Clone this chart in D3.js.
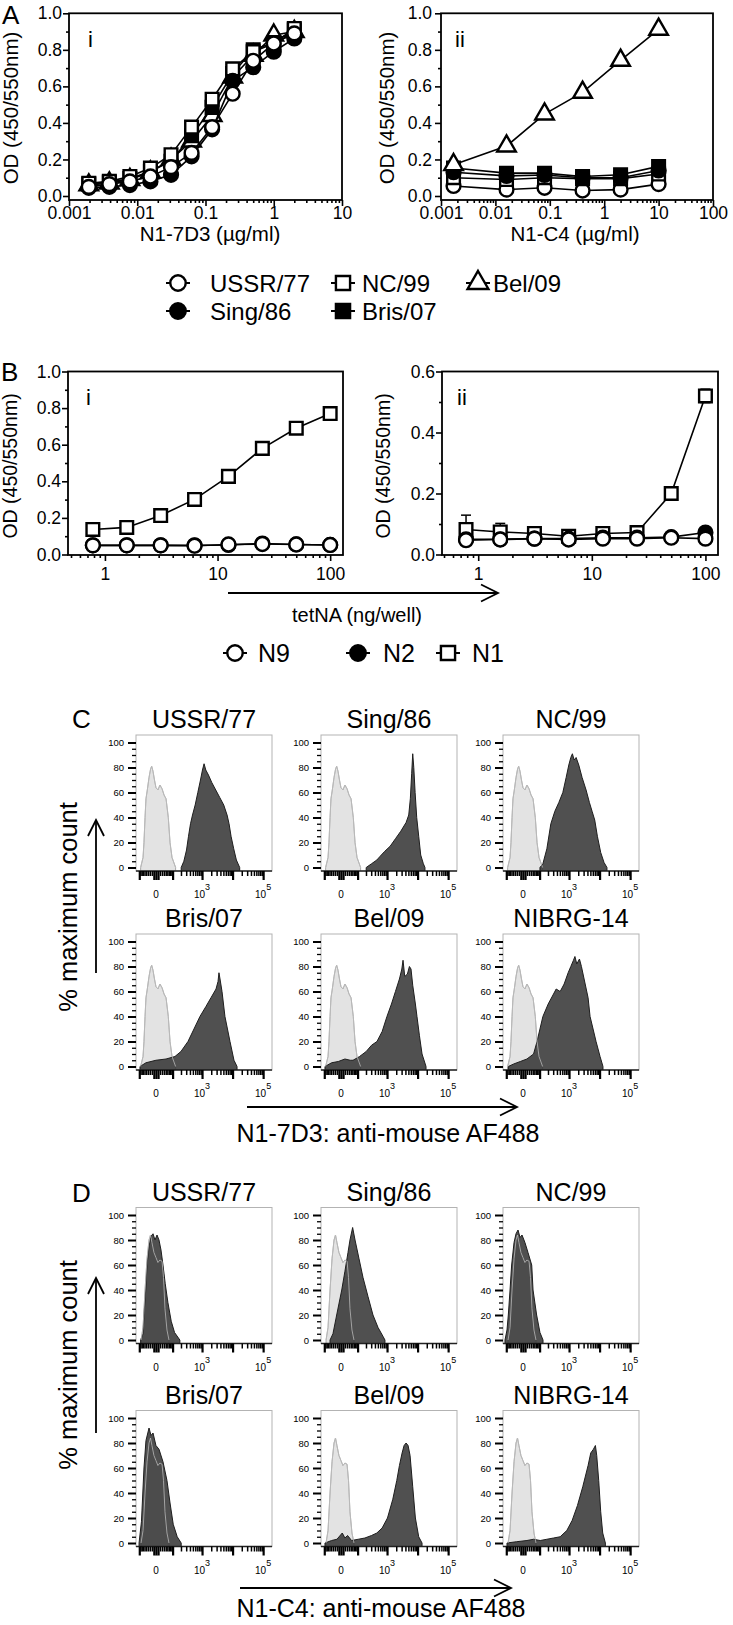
<!DOCTYPE html>
<html><head><meta charset="utf-8">
<script src="https://cdn.jsdelivr.net/npm/d3@7"></script>
<style>
body{margin:0;background:#fff}
svg text{font-family:"Liberation Sans",Arial,Helvetica,sans-serif;fill:#000}
</style></head>
<body><svg id="fig" width="733" height="1625"></svg>
<script>
// ---------------- DATA ----------------
// Panel A(i): N1-7D3 ELISA
const conc7D3 = [0.00195,0.0039,0.0078,0.0156,0.03125,0.0625,0.125,0.25,0.5,1,2];
const od7D3_USSR = [0.05,0.065,0.08,0.107,0.158,0.236,0.377,0.56,0.74,0.835,0.89];
const od7D3_Sing = [0.045,0.05,0.06,0.08,0.116,0.217,0.365,0.63,0.705,0.79,0.862];
const od7D3_NC   = [0.07,0.08,0.107,0.153,0.226,0.377,0.53,0.696,0.79,0.835,0.917];
const od7D3_Bris = [0.065,0.075,0.095,0.135,0.19,0.33,0.485,0.67,0.80,0.84,0.91];
const od7D3_Bel  = [0.06,0.07,0.09,0.13,0.2,0.3,0.44,0.65,0.77,0.88,0.9];
// Panel A(ii): N1-C4 ELISA
const concC4 = [0.0017,0.016,0.08,0.4,2,10];
const odC4_USSR = [0.055,0.035,0.045,0.03,0.035,0.065];
const odC4_Sing = [0.13,0.11,0.115,0.10,0.10,0.14];
const odC4_NC   = [0.10,0.09,0.10,0.095,0.095,0.12];
const odC4_Bris = [0.153,0.125,0.125,0.107,0.116,0.162];
const odC4_Bel  = [0.171,0.273,0.448,0.567,0.742,0.912];
const strainsA = ["USSR/77","Sing/86","NC/99","Bris/07","Bel/09"];
// Panel B: tetNA
const tetNA = [0.78125,1.5625,3.125,6.25,12.5,25,50,100];
const bi_N9 = [0.05,0.05,0.05,0.048,0.055,0.057,0.055,0.052];
const bi_N2 = [0.05,0.05,0.05,0.05,0.052,0.06,0.055,0.052];
const bi_N1 = [0.137,0.148,0.213,0.301,0.427,0.58,0.69,0.77];
const bii_N9 = [0.047,0.049,0.052,0.049,0.052,0.052,0.055,0.052];
const bii_N2 = [0.05,0.05,0.052,0.052,0.055,0.055,0.057,0.072];
const bii_N1 = [0.082,0.074,0.069,0.06,0.069,0.072,0.2,0.52];
const bii_N1_err = [0.047,0.028,0.01,0.005,0.005,0.005,0.022,0.022];
const strainsB = ["N9","N2","N1"];
// tick labels
const ticksA1 = [0.001,0.01,0.1,1,10], ticksA1Lab = ["0.001","0.01","0.1","1","10"];
const ticksA2 = [0.001,0.01,0.1,1,10,100], ticksA2Lab = ["0.001","0.01","0.1","1","10","100"];
const ticksB = [1,10,100], ticksBLab = ["1","10","100"];
const ticksOD1 = [0,0.2,0.4,0.6,0.8,1.0], ticksOD1Lab = ["0.0","0.2","0.4","0.6","0.8","1.0"];
const ticksOD2 = [0,0.2,0.4,0.6], ticksOD2Lab = ["0.0","0.2","0.4","0.6"];
// Flow histograms: [channel (0-1023), % of max]
const flowTitles = ["USSR/77","Sing/86","NC/99","Bris/07","Bel/09","NIBRG-14"];
const ctrlC = [[35,0],[53,8],[60,20],[68,40],[75,55],[85,62],[98,72],[110,79],[118,81],[128,77],[139,70],[150,64],[165,62],[180,66],[196,63],[211,58],[226,55],[243,40],[256,20],[271,8],[298,0]];
const ctrlD = [[38,0],[53,10],[68,40],[83,65],[98,80],[109,84],[120,78],[135,70],[150,66],[165,62],[180,64],[196,63],[207,50],[218,25],[233,8],[248,0]];
const C_USSR = [[340,0],[360,5],[380,14],[395,25],[410,35],[425,42],[445,50],[465,60],[485,70],[500,78],[512,83],[525,78],[545,74],[570,68],[600,62],[630,56],[660,50],[685,42],[700,35],[715,25],[735,15],[755,6],[780,0]];
const C_Sing = [[340,0],[380,3],[420,6],[445,9],[480,13],[520,17],[560,23],[600,29],[640,36],[660,42],[672,55],[682,75],[690,91],[698,80],[708,60],[720,40],[735,25],[750,10],[770,3],[782,0]];
const C_NC = [[278,0],[300,3],[330,15],[360,35],[390,45],[420,52],[450,60],[475,72],[495,82],[510,88],[522,91],[535,86],[550,88],[570,82],[595,72],[625,62],[650,52],[670,45],[690,38],[710,25],[735,12],[760,4],[782,0]];
const C_Bris = [[30,0],[75,3],[150,5],[226,6],[293,8],[338,12],[391,20],[436,30],[481,40],[526,48],[564,55],[602,62],[617,68],[624,75],[632,70],[647,60],[669,40],[707,20],[737,5],[760,0]];
const C_Bel = [[30,0],[80,3],[130,4],[180,6],[220,5],[241,5],[290,8],[340,12],[380,17],[421,20],[460,28],[496,40],[530,50],[560,60],[590,70],[608,78],[617,85],[630,72],[650,74],[665,80],[677,78],[690,65],[710,50],[722,40],[740,25],[760,10],[790,0]];
const C_NIBRG = [[40,0],[80,2],[130,4],[180,6],[230,10],[256,20],[300,40],[340,50],[380,58],[400,62],[430,60],[460,66],[490,75],[510,80],[530,85],[541,88],[555,82],[575,86],[590,80],[610,70],[640,55],[655,40],[700,20],[730,8],[752,0]];
const D_USSR = [[35,0],[53,5],[60,20],[73,40],[83,60],[98,75],[113,83],[128,85],[143,80],[158,84],[173,80],[188,72],[203,60],[220,45],[240,30],[265,15],[290,6],[330,0]];
const D_Sing = [[68,0],[90,5],[118,20],[156,40],[180,55],[203,70],[218,80],[238,90],[256,80],[286,65],[316,50],[353,35],[391,20],[429,10],[466,3],[481,0]];
const D_NC = [[15,0],[30,8],[40,20],[53,40],[65,60],[83,78],[98,85],[113,88],[128,82],[143,84],[165,78],[188,70],[216,60],[226,40],[253,20],[278,6],[301,0]];
const D_Bris = [[23,0],[41,17],[60,60],[75,82],[98,92],[113,86],[128,88],[150,78],[173,75],[203,65],[233,50],[256,32],[280,15],[310,5],[340,0]];
const D_Bel = [[30,0],[80,2],[120,3],[160,8],[180,4],[200,6],[230,2],[280,3],[330,4],[380,6],[420,8],[460,12],[500,20],[540,35],[570,50],[590,62],[610,72],[625,78],[640,80],[655,78],[670,70],[690,45],[710,20],[735,5],[760,0]];
const D_NIBRG = [[30,0],[100,1],[180,2],[230,3],[280,2],[330,3],[380,4],[430,5],[480,10],[520,18],[560,30],[600,45],[640,62],[660,72],[680,75],[695,78],[705,70],[720,50],[735,25],[750,8],[770,0]];
const flowC = [C_USSR,C_Sing,C_NC,C_Bris,C_Bel,C_NIBRG];
const flowD = [D_USSR,D_Sing,D_NC,D_Bris,D_Bel,D_NIBRG];
const flowTickVals = [0,1000,100000], flowTickLab = [["0",""],["10","3"],["10","5"]];
const pctTicks = [0,20,40,60,80,100];

// ---------------- DRAWING ----------------
const svg = d3.select("#fig");
const BLK = "#000";
function styleAxis(g, fs){
  g.selectAll("path.domain").remove();
  g.selectAll(".tick line").attr("stroke",BLK).attr("stroke-width",1.6);
  g.selectAll(".tick text").attr("font-size",fs).attr("font-family",null).attr("fill",BLK);
  g.attr("font-family",null);
}
function minorLog(dom){
  const out=[]; const lo=Math.floor(Math.log10(dom[0])), hi=Math.ceil(Math.log10(dom[1]));
  for(let e=lo;e<hi;e++) for(let m=2;m<=9;m++){const v=m*Math.pow(10,e); if(v>=dom[0]&&v<=dom[1]) out.push(v);}
  return out;
}
function odPanel(o){
  const g = svg.append("g");
  const x = d3.scaleLog().domain(o.xdom).range(o.xr);
  const y = d3.scaleLinear().domain([0,o.ymax]).range(o.yr);
  const top = y(o.ymax), bot = o.axisY;
  g.append("rect").attr("x",o.xr[0]).attr("y",top).attr("width",o.xr[1]-o.xr[0]).attr("height",bot-top)
   .attr("fill","none").attr("stroke",BLK).attr("stroke-width",1.8);
  const gx = g.append("g").attr("transform",`translate(0,${bot})`)
    .call(d3.axisBottom(x).tickValues(o.xt).tickFormat((d,i)=>o.xtl[i]).tickSize(6).tickSizeOuter(0).tickPadding(o.xpad));
  styleAxis(gx,17.5);
  const gxm = g.append("g").attr("transform",`translate(0,${bot})`)
    .call(d3.axisBottom(x).tickValues(minorLog(o.xdom)).tickFormat("").tickSize(3).tickSizeOuter(0));
  styleAxis(gxm,10);
  const gy = g.append("g").attr("transform",`translate(${o.xr[0]},0)`)
    .call(d3.axisLeft(y).tickValues(o.yt).tickFormat((d,i)=>o.ytl[i]).tickSize(6).tickSizeOuter(0).tickPadding(o.ypad));
  styleAxis(gy,17.5);
  const ym=[]; for(let v=0.1; v<o.ymax; v+=0.2) ym.push(+v.toFixed(2));
  const gym = g.append("g").attr("transform",`translate(${o.xr[0]},0)`)
    .call(d3.axisLeft(y).tickValues(ym).tickFormat("").tickSize(3).tickSizeOuter(0));
  styleAxis(gym,10);
  g.append("text").attr("transform",`translate(${o.ytx},${o.yty}) rotate(-90)`).attr("text-anchor","middle")
   .attr("dominant-baseline","central").attr("font-size",o.ytfs||20.5).text("OD (450/550nm)");
  if(o.xtitle) g.append("text").attr("x",o.xtx).attr("y",o.xty).attr("text-anchor","middle").attr("font-size",20.5).text(o.xtitle);
  g.append("text").attr("x",o.romX).attr("y",o.romY).attr("font-size",22).text(o.roman);
  const line = d3.line().x(d=>x(d[0])).y(d=>y(d[1]));
  o.series.forEach(s=>{
    const pts = o.xs.map((c,i)=>[c,s.v[i]]);
    if(s.err){
      pts.forEach((p,i)=>{
        const e=s.err[i], cx=x(p[0]);
        g.append("line").attr("x1",cx).attr("x2",cx).attr("y1",y(p[1]-e)).attr("y2",y(p[1]+e)).attr("stroke",BLK).attr("stroke-width",1.5);
        [p[1]-e,p[1]+e].forEach(v=>g.append("line").attr("x1",cx-5).attr("x2",cx+5).attr("y1",y(v)).attr("y2",y(v)).attr("stroke",BLK).attr("stroke-width",1.5));
      });
    }
    g.append("path").attr("d",line(pts)).attr("fill","none").attr("stroke",BLK).attr("stroke-width",1.6);
    pts.forEach(p=>marker(g,s.shape,s.filled,x(p[0]),y(p[1]),1));
  });
}
function marker(g,shape,filled,cx,cy,k){
  const sym = shape==="circle"?d3.symbolCircle:shape==="square"?d3.symbolSquare:d3.symbolTriangle;
  const size = shape==="circle"?150:shape==="square"?160:150;
  g.append("path").attr("d",d3.symbol().type(sym).size(size*k)()).attr("transform",`translate(${cx},${cy})`)
   .attr("fill",filled?BLK:"#fff").attr("stroke",BLK).attr("stroke-width",2.4);
}
const shapeA = {"USSR/77":["circle",false],"Sing/86":["circle",true],"NC/99":["square",false],"Bris/07":["square",true],"Bel/09":["triangle",false]};
const shapeB = {"N9":["circle",false],"N2":["circle",true],"N1":["square",false]};

const A1vals = {"USSR/77":od7D3_USSR,"Sing/86":od7D3_Sing,"NC/99":od7D3_NC,"Bris/07":od7D3_Bris,"Bel/09":od7D3_Bel};
const A2vals = {"USSR/77":odC4_USSR,"Sing/86":odC4_Sing,"NC/99":odC4_NC,"Bris/07":odC4_Bris,"Bel/09":odC4_Bel};
const orderA1 = ["Bel/09","Bris/07","NC/99","Sing/86","USSR/77"];
const orderA2 = ["USSR/77","NC/99","Sing/86","Bris/07","Bel/09"];

odPanel({xdom:[0.001,10],xr:[69,342],ymax:1,yr:[196,13.3],axisY:200,xt:ticksA1,xtl:ticksA1Lab,yt:ticksOD1,ytl:ticksOD1Lab,
  xpad:1,ypad:1,ytx:10,yty:108,xtitle:"N1-7D3 (µg/ml)",xtx:210,xty:241,roman:"i",romX:88,romY:47,xs:conc7D3,
  series:orderA1.map(n=>({v:A1vals[n],shape:shapeA[n][0],filled:shapeA[n][1]}))});
odPanel({xdom:[0.001,100],xr:[441,713],ymax:1,yr:[196,13.3],axisY:200,xt:ticksA2,xtl:ticksA2Lab,yt:ticksOD1,ytl:ticksOD1Lab,
  xpad:1,ypad:3,ytx:386,yty:108,xtitle:"N1-C4 (µg/ml)",xtx:575,xty:241,roman:"ii",romX:455,romY:47,xs:concC4,
  series:orderA2.map(n=>({v:A2vals[n],shape:shapeA[n][0],filled:shapeA[n][1]}))});
const Bi = {"N9":bi_N9,"N2":bi_N2,"N1":bi_N1}, Bii = {"N9":bii_N9,"N2":bii_N2,"N1":bii_N1};
odPanel({xdom:[0.47,130],xr:[68,343],ymax:1,yr:[554.5,371.5],axisY:555,xt:ticksB,xtl:ticksBLab,yt:ticksOD1,ytl:ticksOD1Lab,
  xpad:7,ypad:1,ytx:10,yty:466,ytfs:19.5,roman:"i",romX:86,romY:405,xs:tetNA,
  series:["N1","N2","N9"].map(n=>({v:Bi[n],shape:shapeB[n][0],filled:shapeB[n][1]}))});
odPanel({xdom:[0.48,129],xr:[442,718],ymax:0.6,yr:[554.5,371.5],axisY:555,xt:ticksB,xtl:ticksBLab,yt:ticksOD2,ytl:ticksOD2Lab,
  xpad:7,ypad:1,ytx:383,yty:466,ytfs:19.5,roman:"ii",romX:457,romY:405,xs:tetNA,
  series:["N1","N2","N9"].map(n=>({v:Bii[n],err:n==="N1"?bii_N1_err:null,shape:shapeB[n][0],filled:shapeB[n][1]}))});

[["A",2,24],["B",1,381],["C",72,728],["D",72,1202]].forEach(([t,x,y])=>svg.append("text").attr("x",x).attr("y",y).attr("font-size",26).text(t));

function legendItem(name,shp,cx,cy,tx,fs){
  svg.append("line").attr("x1",cx-12).attr("x2",cx+12).attr("y1",cy).attr("y2",cy).attr("stroke",BLK).attr("stroke-width",2);
  marker(svg,shp[0],shp[1],cx,cy,1.25);
  svg.append("text").attr("x",tx).attr("y",cy).attr("dy","0.36em").attr("font-size",fs).text(name);
}
const legA = [["USSR/77",178,283,210],["NC/99",343,283,362],["Bel/09",478,283,493],["Sing/86",178,311,210],["Bris/07",343,311,362]];
legA.forEach(([n,cx,cy,tx])=>legendItem(n,shapeA[n],cx,cy,tx,24));
const legB = [["N9",235,653,258],["N2",358,653,383],["N1",448,653,472]];
legB.forEach(([n,cx,cy,tx])=>legendItem(n,shapeB[n],cx,cy,tx,25));

function arrowH(x1,x2,y){
  svg.append("line").attr("x1",x1).attr("x2",x2).attr("y1",y).attr("y2",y).attr("stroke",BLK).attr("stroke-width",1.8);
  svg.append("path").attr("d",`M${x2-17},${y-8.5}L${x2},${y}L${x2-17},${y+8.5}`).attr("fill","none").attr("stroke",BLK).attr("stroke-width",1.8);
}
function arrowV(x,y1,y2){
  svg.append("line").attr("x1",x).attr("x2",x).attr("y1",y1).attr("y2",y2).attr("stroke",BLK).attr("stroke-width",1.8);
  svg.append("path").attr("d",`M${x-8},${y2+16}L${x},${y2}L${x+8},${y2+16}`).attr("fill","none").attr("stroke",BLK).attr("stroke-width",1.8);
}
arrowH(228,498,593);
svg.append("text").attr("x",357).attr("y",622).attr("text-anchor","middle").attr("font-size",20).text("tetNA (ng/well)");

const cols = [136,321,503], FW = 136;
const chOf = v => 150 + 99.8*Math.asinh(v/62);
function flowTickMarks(){
  const maj=[0], mnr=[];
  for(let e=1;e<=5;e++){ for(let m=1;m<=9;m++){ const v=m*Math.pow(10,e); (m===1?maj:mnr).push(v); if(e<=2){(m===1?maj:mnr).push(-v);} } }
  return {maj:maj.map(chOf).filter(c=>c>=0&&c<=1023), mnr:mnr.map(chOf).filter(c=>c>=0&&c<=1023)};
}
const fTicks = flowTickMarks();
function flowPlot(left,top,title,ctrl,sample){
  const g = svg.append("g");
  const y100 = top+7.5, y0 = y100+125, axisY = y0+3.5;
  const x = d3.scaleLinear().domain([0,1023]).range([left,left+FW]);
  const y = d3.scaleLinear().domain([0,100]).range([y0,y100]);
  const id = "clip"+Math.round(left)+"_"+Math.round(top);
  g.append("clipPath").attr("id",id).append("rect").attr("x",left).attr("y",top).attr("width",FW).attr("height",axisY-top);
  g.append("rect").attr("x",left).attr("y",top).attr("width",FW).attr("height",axisY-top).attr("fill","#fff").attr("stroke","#b3b3b3").attr("stroke-width",1);
  const area = d3.area().x(d=>x(d[0])).y0(axisY).y1(d=>y(d[1]));
  const lineF = d3.line().x(d=>x(d[0])).y(d=>y(d[1]));
  const hg = g.append("g").attr("clip-path",`url(#${id})`);
  hg.append("path").attr("d",area(ctrl)).attr("fill","#e3e3e3").attr("stroke","#a9a9a9").attr("stroke-width",1);
  hg.append("path").attr("d",area(sample)).attr("fill","#333").attr("fill-opacity",0.86).attr("stroke","#1e1e1e").attr("stroke-width",1);
  hg.append("path").attr("d",lineF(ctrl)).attr("fill","none").attr("stroke","#bdbdbd").attr("stroke-width",0.8);
  g.append("line").attr("x1",left).attr("x2",left+FW).attr("y1",axisY).attr("y2",axisY).attr("stroke","#222").attr("stroke-width",1.4);
  const gy = g.append("g").attr("transform",`translate(${left},0)`)
    .call(d3.axisLeft(y).tickValues(pctTicks).tickSize(8).tickSizeOuter(0).tickPadding(4));
  gy.selectAll("path.domain").remove();
  gy.selectAll(".tick line").attr("stroke",BLK).attr("stroke-width",2);
  gy.selectAll(".tick text").attr("font-size",9.5).attr("font-family",null);
  gy.attr("font-family",null);
  const ym = d3.range(5,105,5).filter(v=>v%20!==0);
  const gym = g.append("g").attr("transform",`translate(${left},0)`)
    .call(d3.axisLeft(y).tickValues(ym).tickFormat("").tickSize(4).tickSizeOuter(0));
  gym.selectAll("path.domain").remove(); gym.selectAll(".tick line").attr("stroke",BLK).attr("stroke-width",1.3);
  const gx = g.append("g").attr("transform",`translate(0,${axisY})`)
    .call(d3.axisBottom(x).tickValues(fTicks.maj).tickFormat("").tickSize(9).tickSizeOuter(0));
  gx.selectAll("path.domain").remove(); gx.selectAll(".tick line").attr("stroke",BLK).attr("stroke-width",2.2);
  const gxm = g.append("g").attr("transform",`translate(0,${axisY})`)
    .call(d3.axisBottom(x).tickValues(fTicks.mnr).tickFormat("").tickSize(5).tickSizeOuter(0));
  gxm.selectAll("path.domain").remove(); gxm.selectAll(".tick line").attr("stroke",BLK).attr("stroke-width",1.5);
  flowTickVals.forEach((v,i)=>{
    const t = g.append("text").attr("x",x(chOf(v))).attr("y",axisY+27).attr("text-anchor","middle").attr("font-size",10);
    t.append("tspan").text(flowTickLab[i][0]);
    if(flowTickLab[i][1]) t.append("tspan").attr("dy",-8).attr("font-size",9).text(flowTickLab[i][1]);
  });
  g.append("text").attr("x",left+FW/2).attr("y",top-7).attr("text-anchor","middle").attr("font-size",25).text(title);
}
const rowsC = [735,934], rowsD = [1207.5,1410.5];
flowTitles.forEach((t,i)=>{
  const r=Math.floor(i/3), c=i%3;
  flowPlot(cols[c],rowsC[r],t,ctrlC,flowC[i]);
  flowPlot(cols[c],rowsD[r],t,ctrlD,flowD[i]);
});
function yTitle(cy){ svg.append("text").attr("transform",`translate(77,${cy}) rotate(-90)`).attr("text-anchor","middle").attr("font-size",25.5).text("% maximum count"); }
yTitle(907); arrowV(96,973,820);
yTitle(1365); arrowV(96,1433,1278);
arrowH(247,517,1107);
svg.append("text").attr("x",388).attr("y",1142).attr("text-anchor","middle").attr("font-size",25).text("N1-7D3: anti-mouse AF488");
arrowH(240,511,1588);
svg.append("text").attr("x",381).attr("y",1617).attr("text-anchor","middle").attr("font-size",25).text("N1-C4: anti-mouse AF488");
</script></body></html>
